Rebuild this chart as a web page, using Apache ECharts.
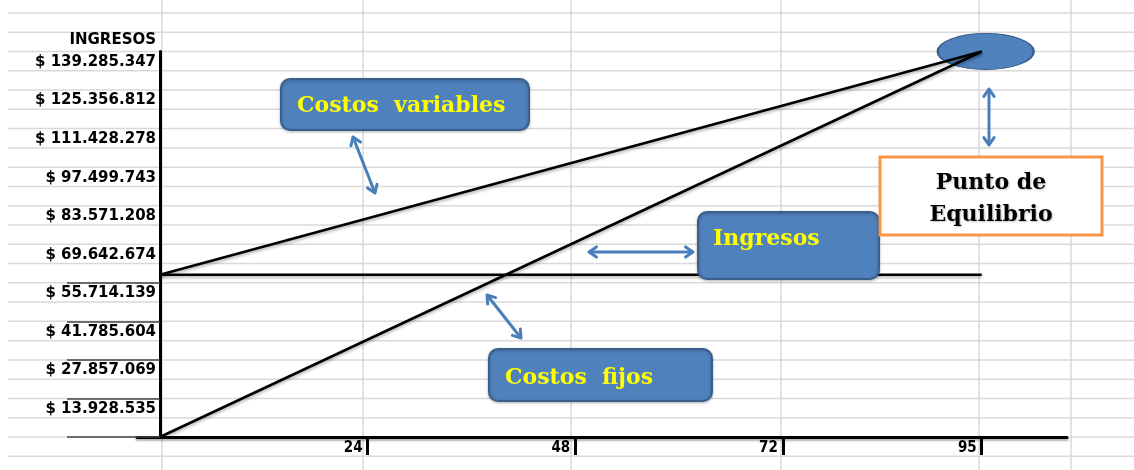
<!DOCTYPE html>
<html>
<head>
<meta charset="utf-8">
<script src="https://cdn.jsdelivr.net/npm/echarts@6/dist/echarts.min.js"></script>
<style>
  html, body { margin: 0; padding: 0; background: #fff; }
  #chart { width: 1134px; height: 470px; }
</style>
</head>
<body>
<div id="chart"></div>
<script>
// datos del punto de equilibrio
var unidades = [0, 95];
var ingresos = [0, 139285347];
var costosTotales = [58600000, 139285347];
var costosFijos = [58600000, 58600000];
var puntoEquilibrio = [95, 139285347];

// etiquetas de los ejes
var yTicks = [13928535, 27857069, 41785604, 55714139, 69642674, 83571208, 97499743, 111428278, 125356812, 139285347];
var yTicksLargos = [0, 13928535, 27857069, 41785604, 55714139];
var xTicks = [24, 48, 72, 95];

function pesos(v) {
    return '$ ' + Math.round(v).toString().replace(/\B(?=(\d{3})+(?!\d))/g, '.');
}

function serie(xs, ys) {
    var d = [];
    for (var i = 0; i < xs.length; i++) d.push([xs[i], ys[i]]);
    return d;
}

// fondo tipo hoja de calculo
var graficos = [];
var columnas = [162, 363, 571, 781, 979, 1071];
for (var k = -1; k <= 23; k++) {
    var y = 437 - k * 19.275;
    graficos.push({
        type: 'line', z: -10, silent: true,
        shape: { x1: 8, y1: y, x2: 1134, y2: y },
        style: { stroke: '#d9d9d9', lineWidth: 1.5 }
    });
}
columnas.forEach(function (x) {
    graficos.push({
        type: 'line', z: -10, silent: true,
        shape: { x1: x, y1: 0, x2: x, y2: 470 },
        style: { stroke: '#d9d9d9', lineWidth: 1.5 }
    });
});

// flechas dobles
function flecha(x1, y1, x2, y2) {
    var col = '#4a7ebb';
    var ang = Math.atan2(y2 - y1, x2 - x1);
    var L = 9, a = 0.6;
    function punta(px, py, dir) {
        return {
            type: 'polyline', z: 50,
            shape: { points: [
                [px + L * Math.cos(dir + a), py + L * Math.sin(dir + a)],
                [px, py],
                [px + L * Math.cos(dir - a), py + L * Math.sin(dir - a)]
            ] },
            style: { stroke: col, lineWidth: 3, fill: null, lineJoin: 'round', lineCap: 'round' }
        };
    }
    graficos.push({
        type: 'line', z: 50,
        shape: { x1: x1, y1: y1, x2: x2, y2: y2 },
        style: { stroke: col, lineWidth: 3 }
    });
    graficos.push(punta(x1, y1, ang));
    graficos.push(punta(x2, y2, ang + Math.PI));
}
flecha(353, 137, 375, 193);
flecha(589, 252, 693, 252);
flecha(487, 295, 521, 338);
flecha(989, 89, 989, 145);

// cajas de texto
function caja(x, y, w, h, texto, tx, ty) {
    graficos.push({
        type: 'rect', z: 60,
        shape: { x: x, y: y, width: w, height: h, r: 9 },
        style: { fill: '#4f81bd', stroke: '#3a5f8b', lineWidth: 2,
                 shadowColor: 'rgba(0,0,0,0.25)', shadowBlur: 3, shadowOffsetY: 1 }
    });
    graficos.push({
        type: 'text', z: 61, x: tx, y: ty,
        style: { text: texto, fill: '#ffff00', font: 'bold 22px "DejaVu Serif"', verticalAlign: 'middle' }
    });
}
caja(281, 79, 248, 51, 'Costos  variables', 297, 106);
caja(698, 212, 181, 67, 'Ingresos', 713, 239);
caja(489, 349, 223, 52, 'Costos  fijos', 505, 378);

graficos.push({
    type: 'rect', z: 60,
    shape: { x: 880, y: 157, width: 222, height: 78 },
    style: { fill: '#fff', stroke: '#f79646', lineWidth: 3 }
});
graficos.push({
    type: 'text', z: 61, x: 991, y: 199,
    style: { text: 'Punto de\nEquilibrio', fill: '#000', font: 'bold 22px "DejaVu Serif"',
             align: 'center', verticalAlign: 'middle', lineHeight: 32,
             textShadowColor: 'rgba(0,0,0,0.25)', textShadowBlur: 2, textShadowOffsetX: 1, textShadowOffsetY: 1 }
});

var lineaNegra = {
    color: '#000', width: 2.5,
    shadowColor: 'rgba(0,0,0,0.3)', shadowBlur: 3, shadowOffsetY: 2
};

var myChart = echarts.init(document.getElementById('chart'));
var option = {
    backgroundColor: '#fff',
    animation: false,
    graphic: graficos,
    grid: {
        left: 137, right: 67, top: 51.5, bottom: 33,
        containLabel: false, outerBoundsMode: 'none'
    },
    xAxis: {
        type: 'value',
        min: -2.66, max: 104.86,
        splitLine: { show: false },
        axisLine: { onZero: true, lineStyle: { color: '#000', width: 3,
            shadowColor: 'rgba(0,0,0,0.3)', shadowBlur: 2, shadowOffsetY: 2 } },
        axisTick: { show: true, customValues: xTicks, length: 18, lineStyle: { color: '#000', width: 3 } },
        axisLabel: {
            customValues: xTicks, align: 'right', margin: 4, padding: [0, 5, 0, 0],
            color: '#000', fontWeight: 'bold', fontSize: 15, fontFamily: 'DejaVu Sans Condensed, DejaVu Sans'
        }
    },
    yAxis: {
        type: 'value',
        min: 0, max: 139285347,
        name: 'INGRESOS',
        nameLocation: 'end',
        nameGap: 4,
        nameTextStyle: { align: 'right', verticalAlign: 'bottom', padding: [0, 4, 0, 0],
            color: '#000', fontWeight: 'bold', fontSize: 15, fontFamily: 'DejaVu Sans' },
        splitLine: { show: false },
        axisLine: { onZero: true, lineStyle: { color: '#000', width: 3 } },
        axisTick: { show: true, customValues: yTicksLargos, length: 93, lineStyle: { color: '#444', width: 1.5 } },
        axisLabel: {
            customValues: yTicks, margin: -19, verticalAlign: 'top', padding: [3, 0, 0, 0],
            color: '#000', fontWeight: 'bold', fontSize: 15, fontFamily: 'DejaVu Sans',
            formatter: pesos
        }
    },
    series: [
        {
            name: 'Punto de Equilibrio', type: 'scatter', z: 1,
            symbol: 'circle', symbolSize: [96, 36], symbolOffset: [4, 0],
            itemStyle: { color: '#4f81bd', opacity: 1, borderColor: '#3a5f8b', borderWidth: 1.5 },
            data: [puntoEquilibrio]
        },
        { name: 'Ingresos', type: 'line', z: 5, symbol: 'none', lineStyle: lineaNegra, data: serie(unidades, ingresos) },
        { name: 'Costos totales', type: 'line', z: 5, symbol: 'none', lineStyle: lineaNegra, data: serie(unidades, costosTotales) },
        { name: 'Costos fijos', type: 'line', z: 5, symbol: 'none', lineStyle: lineaNegra, data: serie(unidades, costosFijos) }
    ]
};
myChart.setOption(option);
window.onresize = myChart.resize;
</script>
</body>
</html>
